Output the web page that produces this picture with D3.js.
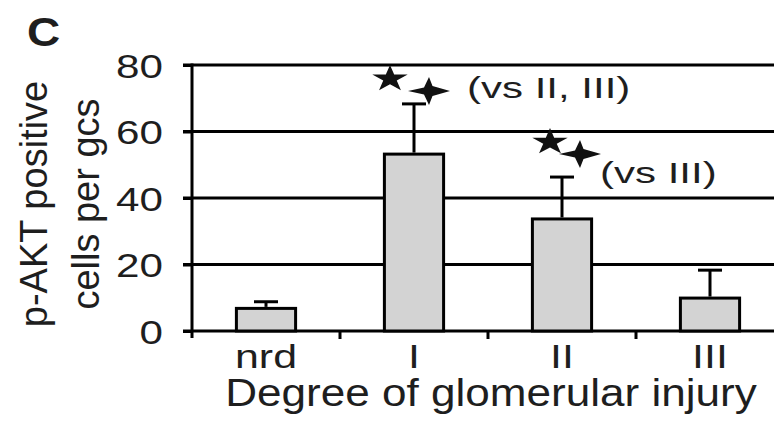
<!DOCTYPE html>
<html>
<head>
<meta charset="utf-8">
<script src="https://cdn.jsdelivr.net/npm/d3@7"></script>
<style>
  html, body { margin: 0; padding: 0; background: #fff; }
  svg { display: block; }
  text { font-family: "Liberation Sans", Arial, Helvetica, sans-serif; fill: #1e1e1e; }
</style>
</head>
<body>
<svg id="chart" width="774" height="426"></svg>
<script>
// Degree of glomerular injury vs p-AKT positive cells per glomerular cross-section
const categories = ["nrd", "I", "II", "III"];
const means = [6.8, 53.2, 33.7, 9.9];
const sdUpper = [2.0, 15.1, 12.6, 8.4];
const yTicks = [0, 20, 40, 60, 80];
const panelLabel = "C";
const yTitleLines = ["p-AKT positive", "cells per gcs"];
const xTitle = "Degree of glomerular injury";
// significance notes: category they sit on and their text
const sigCategories = ["I", "II"];
const sigTexts = ["(vs II, III)", "(vs III)"];

const svg = d3.select("#chart");
const W = 774;

const x = d3.scaleBand()
  .domain(categories)
  .range([192, 784])
  .paddingInner(0.6)
  .paddingOuter(0.3);

const y = d3.scaleLinear().domain([0, 80]).range([331, 65]);

// stretch text horizontally to the wide lettering of the figure
function widen(sel, k) {
  sel.each(function () {
    const n = this.getComputedTextLength();
    d3.select(this).attr("textLength", n * k).attr("lengthAdjust", "spacingAndGlyphs");
  });
}

// horizontal gridlines (include the top at 80 and baseline)
svg.append("g")
  .selectAll("line")
  .data(yTicks)
  .join("line")
  .attr("x1", 183).attr("x2", W)
  .attr("y1", d => y(d)).attr("y2", d => y(d))
  .attr("stroke", "#000").attr("stroke-width", 3);

// y axis labels
const yAxis = svg.append("g")
  .attr("transform", "translate(192,0)")
  .call(d3.axisLeft(y).tickValues(yTicks).tickSize(9).tickPadding(20));
yAxis.select(".domain").remove();
yAxis.selectAll(".tick line").attr("stroke", "#000").attr("stroke-width", 3);
yAxis.selectAll(".tick text")
  .attr("font-size", 34)
  .attr("fill", "#1e1e1e")
  .style("font-family", "'Liberation Sans', Arial, sans-serif")
  .attr("dy", "0.36em")
  .call(widen, 1.24);

// y axis line
svg.append("line")
  .attr("x1", 192).attr("x2", 192)
  .attr("y1", y(80) - 1.5).attr("y2", y(0) + 7)
  .attr("stroke", "#000").attr("stroke-width", 3);

// category boundary ticks below the baseline
const bounds = categories.slice(1).map(c => x(c) - x.step() * x.paddingInner() / 2);
svg.append("g")
  .selectAll("line")
  .data(bounds)
  .join("line")
  .attr("x1", d => d).attr("x2", d => d)
  .attr("y1", y(0)).attr("y2", y(0) + 8)
  .attr("stroke", "#000").attr("stroke-width", 3);

// bars
svg.append("g")
  .selectAll("rect")
  .data(categories)
  .join("rect")
  .attr("x", d => x(d))
  .attr("width", x.bandwidth())
  .attr("y", (d, i) => y(means[i]))
  .attr("height", (d, i) => y(0) - y(means[i]))
  .attr("fill", "#d3d3d3")
  .attr("stroke", "#000")
  .attr("stroke-width", 3);

// upper error bars
const eb = svg.append("g").attr("stroke", "#000").attr("stroke-width", 3);
categories.forEach((c, i) => {
  const cx = x(c) + x.bandwidth() / 2;
  eb.append("line")
    .attr("x1", cx).attr("x2", cx)
    .attr("y1", y(means[i]) - 1.5).attr("y2", y(means[i] + sdUpper[i]));
  eb.append("line")
    .attr("x1", cx - 12).attr("x2", cx + 12)
    .attr("y1", y(means[i] + sdUpper[i])).attr("y2", y(means[i] + sdUpper[i]));
});

// x category labels
svg.append("g")
  .selectAll("text")
  .data(categories)
  .join("text")
  .attr("x", d => x(d) + x.bandwidth() / 2)
  .attr("y", 368)
  .attr("text-anchor", "middle")
  .attr("font-size", 33)
  .text(d => d)
  .call(widen, 1.3);

// x axis title
svg.append("text")
  .attr("x", 491).attr("y", 406)
  .attr("text-anchor", "middle")
  .attr("font-size", 38)
  .text(xTitle)
  .call(widen, 1.16);

// y axis title (two rotated lines)
const yt = svg.append("g").attr("transform", "translate(0,204) rotate(-90)");
yTitleLines.forEach((line, i) => {
  yt.append("text")
    .attr("x", 0).attr("y", 47 + i * 52)
    .attr("text-anchor", "middle")
    .attr("font-size", 38)
    .text(line);
});

// panel letter
svg.append("text")
  .attr("x", 27).attr("y", 46)
  .attr("font-size", 40)
  .attr("font-weight", "bold")
  .text(panelLabel)
  .call(widen, 1.15);

// significance markers: five-point star and four-point cross
const starPath = d3.symbol(d3.symbolStar, 270)();
function crossPath(hw, hh) {
  const t = 5;
  return `M${-hw},0 L${-t},${-t * 0.7} L0,${-hh} L${t * 0.7},${-t} L${hw},0 L${t * 0.7},${t} L0,${hh} L${-t},${t * 0.7} Z`;
}
const sigLayout = [
  { star: [-24, -25], cross: [15, -13], text: [53, -6] },
  { star: [-12, -35], cross: [18, -23], text: [38, 6] }
];
sigCategories.forEach((c, k) => {
  const i = categories.indexOf(c);
  const cx = x(c) + x.bandwidth() / 2;
  const cy = y(means[i] + sdUpper[i]);
  const L = sigLayout[k];
  svg.append("path")
    .attr("d", starPath)
    .attr("transform", `translate(${cx + L.star[0]},${cy + L.star[1]}) scale(1.2,0.9)`)
    .attr("fill", "#111");
  svg.append("path")
    .attr("d", crossPath(21, 14))
    .attr("transform", `translate(${cx + L.cross[0]},${cy + L.cross[1]})`)
    .attr("fill", "#111");
  svg.append("text")
    .attr("x", cx + L.text[0]).attr("y", cy + L.text[1])
    .attr("font-size", 30)
    .text(sigTexts[k])
    .call(widen, 1.4);
});
</script>
</body>
</html>
